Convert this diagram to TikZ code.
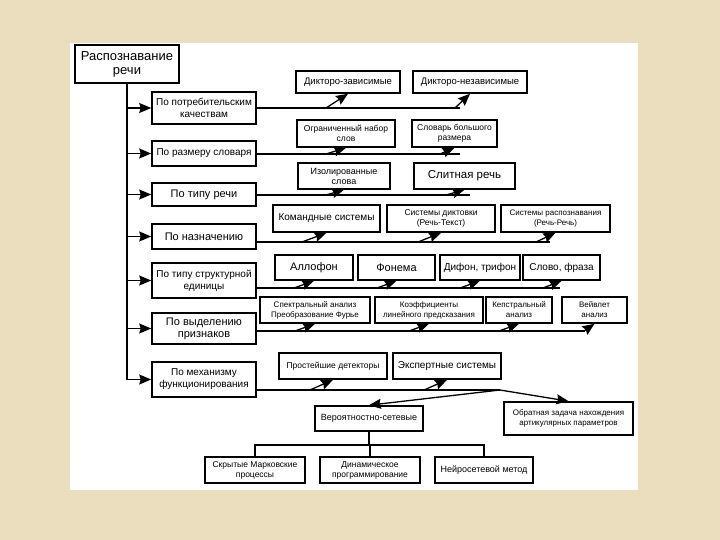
\documentclass[tikz,border=0pt]{standalone}
\usepackage{fontspec}
\setmainfont{Liberation Sans}
\usetikzlibrary{arrows.meta}

\definecolor{paper}{RGB}{234,222,190}

\begin{document}
\begin{tikzpicture}[x = 1pt, y = -1pt,
    cell/.style 2 args = {draw, line width = 1.6pt, fill = white, align = center, inner sep = 1pt,
        minimum width = #1pt, minimum height = #2pt, font = \fontsize{8.5}{10}\selectfont},
    arr/.style = {line width = 1.3pt, -{Stealth[length = 12pt, width = 10pt, inset = 1.5pt]}},
    link/.style = {line width = 1.3pt}]
    % Define dimensions
    \def\catX{204}   % centre of the left column
    \def\catW{104}   % width of the left column boxes

    % Page and white sheet
    \useasboundingbox (0,0) rectangle (720,540);
    \fill[paper] (0,0) rectangle (720,540);
    \fill[white] (70,43) rectangle (638,490);

    %Root and left column
    \node[cell = {104}{38}, font = \fontsize{13}{14}\selectfont] (root) at (127,64) {Распознавание\\речи};
    \node[cell = {\catW}{32}, font = \fontsize{10}{12}\selectfont] (user) at (\catX,108) {По потребительским\\качествам};
    \node[cell = {\catW}{25}, font = \fontsize{10}{12}\selectfont] (vocab) at (\catX,153.5) {По размеру словаря};
    \node[cell = {\catW}{23}, font = \fontsize{11}{12}\selectfont] (speech) at (\catX,194.5) {По типу речи};
    \node[cell = {\catW}{25}, font = \fontsize{11}{12}\selectfont] (purpose) at (\catX,236.5) {По назначению};
    \node[cell = {\catW}{35}, font = \fontsize{10}{12}\selectfont] (unit) at (\catX,280.5) {По типу структурной\\единицы};
    \node[cell = {\catW}{31}, font = \fontsize{11}{12}\selectfont] (feat) at (\catX,328.5) {По выделению\\признаков};
    \node[cell = {\catW}{35}, font = \fontsize{10}{12}\selectfont] (mech) at (\catX,379.5) {По механизму\\функционирования};

    %Trunk
    \draw[link] (root.south) -- (root.south |- mech.west);
    \foreach \cat in {user, vocab, speech, purpose, unit, feat, mech}
        \draw[arr] (root.south |- \cat.west) -- (\cat.west);

    % Row 1
    \node[cell = {104}{22}, font = \fontsize{9.5}{11}\selectfont] (dep) at (348,82) {Дикторо-зависимые};
    \node[cell = {114}{22}, font = \fontsize{9.5}{11}\selectfont] (indep) at (470,82) {Дикторо-независимые};
    \coordinate (e1) at (460,108);
    \coordinate (a11) at (326,108);
    \coordinate (a12) at (455,108);
    \draw[link] (user.east) -- (e1);
    \draw[arr] (a11) -- (dep.south);
    \draw[arr] (a12) -- (indep.south);

    % Row 2
    \node[cell = {98}{27}, font = \fontsize{8.5}{10}\selectfont] (small) at (346,133.5) {Ограниченный набор\\слов};
    \node[cell = {85}{27}, font = \fontsize{8.5}{10}\selectfont] (large) at (454.5,133.5) {Словарь большого\\размера};
    \coordinate (e2) at (460,154);
    \coordinate (a21) at (326,154);
    \coordinate (a22) at (440,154);
    \draw[link] (vocab.east |- e2) -- (e2);
    \draw[arr] (a21) -- (small.south);
    \draw[arr] (a22) -- (large.south);

    % Row 3
    \node[cell = {92}{26}, font = \fontsize{9}{10}\selectfont] (iso) at (344,176) {Изолированные\\слова};
    \node[cell = {101}{26}, font = \fontsize{11.5}{13}\selectfont] (cont) at (464.5,176) {Слитная речь};
    \coordinate (e3) at (470,195);
    \coordinate (a31) at (326,195);
    \coordinate (a32) at (446,195);
    \draw[link] (speech.east |- e3) -- (e3);
    \draw[arr] (a31) -- (iso.south);
    \draw[arr] (a32) -- (cont.south);

    % Row 4
    \node[cell = {107}{27}, font = \fontsize{10}{12}\selectfont] (cmd) at (326.5,218.5) {Командные системы};
    \node[cell = {108}{27}, font = \fontsize{8.5}{10}\selectfont] (dict) at (441,218.5) {Системы диктовки\\(Речь-Текст)};
    \node[cell = {109}{27}, font = \fontsize{8}{10}\selectfont] (recog) at (555.5,218.5) {Системы распознавания\\(Речь-Речь)};
    \coordinate (e4) at (550,242);
    \coordinate (a41) at (302,242);
    \coordinate (a42) at (418,242);
    \coordinate (a43) at (536,242);
    \draw[link] (purpose.east |- e4) -- (e4);
    \draw[arr] (a41) -- (cmd.south);
    \draw[arr] (a42) -- (dict.south);
    \draw[arr] (a43) -- (recog.south);

    % Row 5
    \node[cell = {78}{25}, font = \fontsize{11}{12}\selectfont] (allo) at (314,267.5) {Аллофон};
    \node[cell = {77}{25}, font = \fontsize{11}{12}\selectfont] (phon) at (396.5,267.5) {Фонема};
    \node[cell = {80}{25}, font = \fontsize{10}{12}\selectfont] (diph) at (480,267.5) {Дифон, трифон};
    \node[cell = {77}{25}, font = \fontsize{10}{12}\selectfont] (word) at (561.5,267.5) {Слово, фраза};
    \coordinate (e5) at (560,288);
    \coordinate (a51) at (294,288);
    \coordinate (a52) at (377,288);
    \coordinate (a53) at (460,288);
    \coordinate (a54) at (543,288);
    \draw[link] (unit.east |- e5) -- (e5);
    \draw[arr] (a51) -- (allo.south);
    \draw[arr] (a52) -- (phon.south);
    \draw[arr] (a53) -- (diph.south);
    \draw[arr] (a54) -- (word.south);

    % Row 6
    \node[cell = {110}{26}, font = \fontsize{8}{10}\selectfont] (spec) at (315,310) {Спектральный анализ\\Преобразование Фурье};
    \node[cell = {108}{26}, font = \fontsize{8}{10}\selectfont] (lpc) at (429,310) {Коэффициенты\\линейного предсказания};
    \node[cell = {66}{26}, font = \fontsize{8}{10}\selectfont] (ceps) at (519,310) {Кепстральный\\анализ};
    \node[cell = {65}{26}, font = \fontsize{8}{10}\selectfont] (wave) at (594.5,310) {Вейвлет\\анализ};
    \coordinate (e6) at (585,331);
    \coordinate (a61) at (295,331);
    \coordinate (a62) at (409,331);
    \coordinate (a63) at (499,331);
    \coordinate (a64) at (584,331);
    \draw[link] (feat.east |- e6) -- (e6);
    \draw[arr] (a61) -- (spec.south);
    \draw[arr] (a62) -- (lpc.south);
    \draw[arr] (a63) -- (ceps.south);
    \draw[arr] (a64) -- (wave.south);

    % Row 7
    \node[cell = {108}{26}, font = \fontsize{8.5}{10}\selectfont] (simple) at (333,366) {Простейшие детекторы};
    \node[cell = {108}{26}, font = \fontsize{10}{12}\selectfont] (expert) at (447,366) {Экспертные системы};
    \coordinate (j7) at (500,390);
    \coordinate (a71) at (310,390);
    \coordinate (a72) at (424,390);
    \draw[link] (mech.east |- j7) -- (j7);
    \draw[arr] (a71) -- (simple.south);
    \draw[arr] (a72) -- (expert.south);

    % Row 8
    \node[cell = {108}{25}, font = \fontsize{9}{10}\selectfont] (prob) at (369,418.5) {Вероятностно-сетевые};
    \node[cell = {129}{33}, font = \fontsize{8}{10}\selectfont] (inv) at (568.5,418.5) {Обратная задача нахождения\\артикулярных параметров};
    \draw[arr] (j7) -- (prob.north);
    \draw[arr] (j7) -- (inv.north);

    % Row 9
    \node[cell = {100}{26}, font = \fontsize{8.5}{10}\selectfont] (hmm) at (255,470) {Скрытые Марковские\\процессы};
    \node[cell = {100}{26}, font = \fontsize{8.5}{10}\selectfont] (dyn) at (370,470) {Динамическое\\программирование};
    \node[cell = {98}{26}, font = \fontsize{9}{10}\selectfont] (neur) at (484,470) {Нейросетевой метод};
    \coordinate (tb) at (370,445);
    \draw[link] (prob.south) -- (prob.south |- tb);
    \draw[link] (hmm.north) -- (hmm.north |- tb) -| (neur.north);
    \draw[link] (dyn.north) -- (dyn.north |- tb);

\end{tikzpicture}
\end{document}
